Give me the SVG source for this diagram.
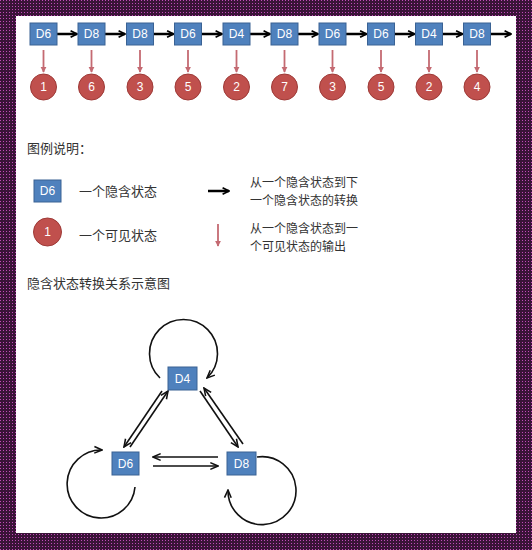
<svg xmlns="http://www.w3.org/2000/svg" width="532" height="550" viewBox="0 0 532 550">
<defs>
<pattern id="dots" width="3" height="3" patternUnits="userSpaceOnUse">
<rect width="3" height="3" fill="#3a1438"/>
<rect width="1" height="1" fill="#c04cb8"/>
</pattern>
<marker id="ab" viewBox="0 0 10 10" refX="9" refY="5" markerWidth="3.2" markerHeight="3.2" orient="auto" markerUnits="strokeWidth">
<path d="M1,1 L9,5 L1,9" fill="none" stroke="#000" stroke-width="2.2" stroke-linejoin="miter"/>
</marker>
<marker id="ag" viewBox="0 0 10 10" refX="9" refY="5" markerWidth="6" markerHeight="6" orient="auto" markerUnits="strokeWidth">
<path d="M1,1.5 L9,5 L1,8.5" fill="none" stroke="#111" stroke-width="1.6"/>
</marker>
<marker id="ar" viewBox="0 0 10 10" refX="8" refY="5" markerWidth="4" markerHeight="4" orient="auto" markerUnits="strokeWidth">
<path d="M1,1 L9,5 L1,9 Z" fill="#c46a72"/>
</marker>
</defs>
<style>
.box{fill:#4f81bd;stroke:#3a6294;stroke-width:1}
.bt{font-family:"Liberation Sans","Open Sans",sans-serif;font-size:12px;fill:#fff;text-anchor:middle;dominant-baseline:central}
.cir{fill:#c0504d;stroke:#9e3a37;stroke-width:1}
.blk{stroke:#000;stroke-width:2.5;fill:none;marker-end:url(#ab)}
.red{stroke:#c46a72;stroke-width:1.8;fill:none;marker-end:url(#ar)}
.g{stroke:#111;stroke-width:1.6;fill:none;marker-end:url(#ag)}
.tx{font-family:"Noto Sans CJK SC","Noto Sans",sans-serif;font-size:13px;fill:#333;dominant-baseline:central}
.tx2{font-family:"Noto Sans CJK SC","Noto Sans",sans-serif;font-size:12px;fill:#333;dominant-baseline:central}
</style>
<rect x="0" y="0" width="532" height="550" fill="url(#dots)"/>
<rect x="16" y="16" width="500" height="517" fill="#fff"/>

<g id="connectors">
<line class="blk" x1="57" y1="34" x2="77" y2="34"/>
<line class="blk" x1="105" y1="34" x2="125" y2="34"/>
<line class="blk" x1="153.5" y1="34" x2="173.5" y2="34"/>
<line class="blk" x1="201.5" y1="34" x2="222" y2="34"/>
<line class="blk" x1="250" y1="34" x2="270" y2="34"/>
<line class="blk" x1="298" y1="34" x2="318" y2="34"/>
<line class="blk" x1="346" y1="34" x2="366.5" y2="34"/>
<line class="blk" x1="394.5" y1="34" x2="414.5" y2="34"/>
<line class="blk" x1="442.5" y1="34" x2="462.5" y2="34"/>
<line class="blk" x1="490.5" y1="34" x2="511" y2="34"/>
<line class="red" x1="43.5" y1="50" x2="43.5" y2="72"/>
<line class="red" x1="91.5" y1="50" x2="91.5" y2="72"/>
<line class="red" x1="140" y1="50" x2="140" y2="72"/>
<line class="red" x1="188" y1="50" x2="188" y2="72"/>
<line class="red" x1="236.5" y1="50" x2="236.5" y2="72"/>
<line class="red" x1="284.5" y1="50" x2="284.5" y2="72"/>
<line class="red" x1="332.5" y1="50" x2="332.5" y2="72"/>
<line class="red" x1="381" y1="50" x2="381" y2="72"/>
<line class="red" x1="429" y1="50" x2="429" y2="72"/>
<line class="red" x1="477" y1="50" x2="477" y2="72"/>
<line class="blk" x1="208" y1="191" x2="229" y2="191"/>
<line class="red" x1="218" y1="224" x2="218" y2="246"/>
<path class="g" d="M160,378 A34,34 0 1 1 207,378"/>
<path class="g" d="M135,487 A34,34 0 1 1 102,450"/>
<path class="g" d="M257,457 A34,34 0 1 1 228,490"/>
<line class="g" x1="162" y1="391" x2="124" y2="447"/>
<line class="g" x1="130" y1="447" x2="168" y2="391"/>
<line class="g" x1="200" y1="391" x2="238" y2="447"/>
<line class="g" x1="243" y1="444" x2="204" y2="388"/>
<line class="g" x1="218" y1="457" x2="153" y2="457"/>
<line class="g" x1="153" y1="466" x2="218" y2="466"/>
</g>

<g id="row-hidden">
<g id="h1"><rect class="box" x="30" y="23" width="27" height="22"/><text class="bt" x="43.5" y="34">D6</text></g>
<g id="h2"><rect class="box" x="78" y="23" width="27" height="22"/><text class="bt" x="91.5" y="34">D8</text></g>
<g id="h3"><rect class="box" x="126.5" y="23" width="27" height="22"/><text class="bt" x="140" y="34">D8</text></g>
<g id="h4"><rect class="box" x="174.5" y="23" width="27" height="22"/><text class="bt" x="188" y="34">D6</text></g>
<g id="h5"><rect class="box" x="223" y="23" width="27" height="22"/><text class="bt" x="236.5" y="34">D4</text></g>
<g id="h6"><rect class="box" x="271" y="23" width="27" height="22"/><text class="bt" x="284.5" y="34">D8</text></g>
<g id="h7"><rect class="box" x="319" y="23" width="27" height="22"/><text class="bt" x="332.5" y="34">D6</text></g>
<g id="h8"><rect class="box" x="367.5" y="23" width="27" height="22"/><text class="bt" x="381" y="34">D6</text></g>
<g id="h9"><rect class="box" x="415.5" y="23" width="27" height="22"/><text class="bt" x="429" y="34">D4</text></g>
<g id="h10"><rect class="box" x="463.5" y="23" width="27" height="22"/><text class="bt" x="477" y="34">D8</text></g>
</g>
<g id="row-visible">
<g id="v1"><circle class="cir" cx="43.5" cy="87" r="13"/><text class="bt" x="43.5" y="87">1</text></g>
<g id="v2"><circle class="cir" cx="91.5" cy="87" r="13"/><text class="bt" x="91.5" y="87">6</text></g>
<g id="v3"><circle class="cir" cx="140" cy="87" r="13"/><text class="bt" x="140" y="87">3</text></g>
<g id="v4"><circle class="cir" cx="188" cy="87" r="13"/><text class="bt" x="188" y="87">5</text></g>
<g id="v5"><circle class="cir" cx="236.5" cy="87" r="13"/><text class="bt" x="236.5" y="87">2</text></g>
<g id="v6"><circle class="cir" cx="284.5" cy="87" r="13"/><text class="bt" x="284.5" y="87">7</text></g>
<g id="v7"><circle class="cir" cx="332.5" cy="87" r="13"/><text class="bt" x="332.5" y="87">3</text></g>
<g id="v8"><circle class="cir" cx="381" cy="87" r="13"/><text class="bt" x="381" y="87">5</text></g>
<g id="v9"><circle class="cir" cx="429" cy="87" r="13"/><text class="bt" x="429" y="87">2</text></g>
<g id="v10"><circle class="cir" cx="477" cy="87" r="13"/><text class="bt" x="477" y="87">4</text></g>
</g>

<g id="legend">
<text class="tx" x="27" y="147">图例说明：</text>
<g id="lg-box"><rect class="box" x="34" y="180" width="27" height="22"/><text class="bt" x="47.5" y="191">D6</text></g>
<text class="tx" x="79" y="190">一个隐含状态</text>
<text class="tx2" x="250" y="181">从一个隐含状态到下</text>
<text class="tx2" x="250" y="199">一个隐含状态的转换</text>
<g id="lg-cir"><circle class="cir" cx="47.5" cy="232" r="14"/><text class="bt" x="47.5" y="232">1</text></g>
<text class="tx" x="79" y="234">一个可见状态</text>
<text class="tx2" x="250" y="227">从一个隐含状态到一</text>
<text class="tx2" x="250" y="245">个可见状态的输出</text>
<text class="tx" x="27" y="282">隐含状态转换关系示意图</text>
</g>

<g id="D4"><rect class="box" x="168" y="367" width="29" height="23"/><text class="bt" x="182.5" y="378.5">D4</text></g>
<g id="D6"><rect class="box" x="112" y="452" width="27" height="23"/><text class="bt" x="125.5" y="463.5">D6</text></g>
<g id="D8"><rect class="box" x="227" y="452" width="29" height="23"/><text class="bt" x="241.5" y="463.5">D8</text></g>
</svg>
